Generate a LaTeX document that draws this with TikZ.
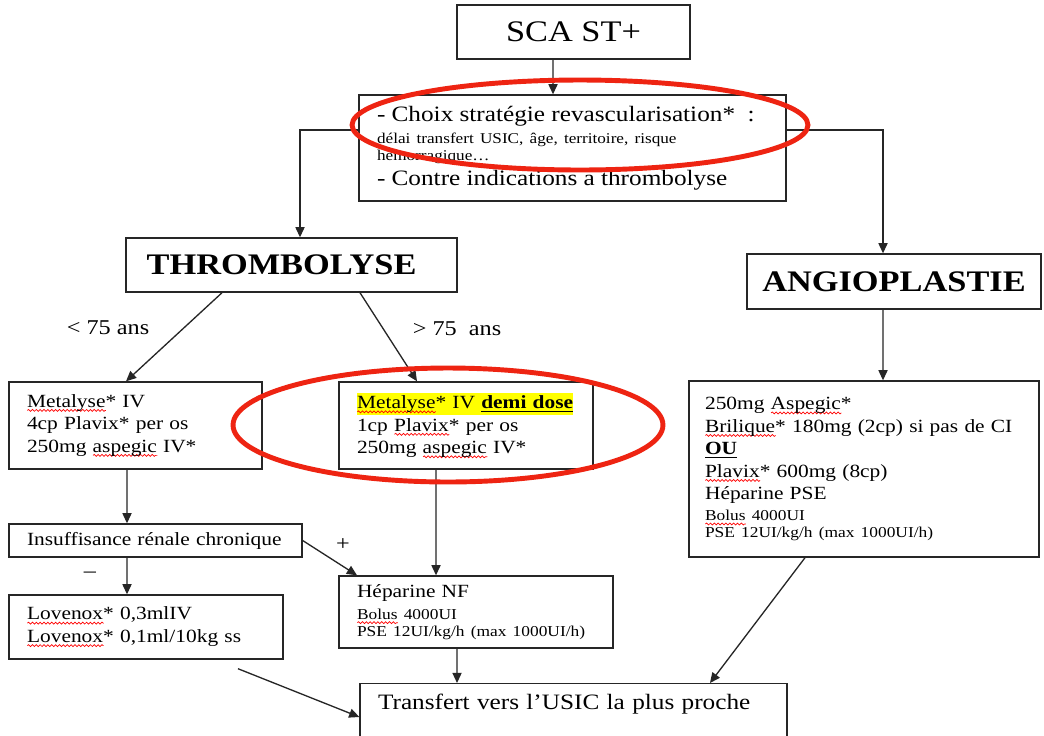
\documentclass[tikz,border=0pt]{standalone}
\usepackage{fontspec}
\setmainfont{Liberation Serif}[FakeStretch=1.15]
\usetikzlibrary{arrows.meta,decorations.pathmorphing}

\definecolor{ringred}{RGB}{238,36,18}
\definecolor{hlyellow}{RGB}{255,255,0}
\newcommand{\fbig}{\fontsize{17}{20}\selectfont}
\newcommand{\fhead}{\fontsize{12.5}{14.2}\selectfont}
\newcommand{\fbody}{\fontsize{10.6}{12.8}\selectfont}
\newcommand{\fsmall}{\fontsize{8.6}{9.4}\selectfont}
\newlength{\squigwd}
\newcommand{\squig}[1]{\leavevmode\settowidth{\squigwd}{#1}%
  \rlap{\tikz[baseline=0pt]\draw[red, line width=0.4pt, decorate,
    decoration={snake, amplitude=0.55pt, segment length=2.2pt}] (0pt,-1.8pt) -- (\squigwd,-1.8pt);}#1}
\setlength{\parindent}{0pt}
\setlength{\fboxsep}{0pt}

\begin{document}
\begin{tikzpicture}[x=0.02cm, y=-0.02cm, >={Triangle[length=5.8pt,width=5.2pt]},
  box/.style={draw=black!85, line width=0.8pt, fill=white, inner ysep=0pt, font=\fbody},
  txtbox/.style={box, inner xsep=0.36cm, align=left},
  arr/.style={->, line width=0.75pt, black!85},
  lbl/.style={font=\fontsize{12}{13}\selectfont, inner sep=1pt},
  ring/.style={draw=ringred, line width=2.8pt}]
  \useasboundingbox (0,0) rectangle (1044,735);
  \clip (0,0) rectangle (1044,735);
  \fill[white] (0,0) rectangle (1044,735);

  % top of the chart
  \node[box, minimum width=4.66cm, minimum height=1.08cm, font=\fbig] (sca) at (573.5,32) {SCA ST+};
  \node[txtbox, text width=7.82cm, minimum height=2.12cm] (choix) at (572.5,148)
    {{\fhead - Choix stratégie revascularisation*~~:\par}
     \vspace{2.9pt}
     {\fontsize{8.5}{9.6}\selectfont délai transfert USIC, âge, territoire, risque\\ hémorragique…\par}
     {\fhead - Contre indications a thrombolyse\par}};

  \node[box, minimum width=6.62cm, minimum height=1.08cm, font=\fbig\bfseries] (thromb) at (291.5,265) {THROMBOLYSE\kern0.4cm};
  \node[box, minimum width=5.88cm, minimum height=1.1cm, font=\fbig\bfseries] (angio) at (894,281.5) {ANGIOPLASTIE};

  % treatments
  \node[txtbox, text width=4.34cm, minimum height=1.74cm] (metaA) at (135.5,425.5)
    {\squig{Metalyse}* IV\\ 4cp Plavix* per os\\ 250mg \squig{aspegic} IV*};
  \node[txtbox, text width=4.36cm, minimum height=1.74cm] (metaB) at (466,425.5)
    {\colorbox{hlyellow}{\strut\squig{Metalyse}* IV \textbf{\underline{demi dose}}}\\ 1cp \squig{Plavix}* per os\\ 250mg \squig{aspegic} IV*};
  \node[txtbox, inner xsep=0.32cm, text width=6.36cm, minimum height=3.52cm] (angTx) at (864,469)
    {250mg \squig{Aspegic}*\\ \squig{Brilique}* 180mg (2cp) si pas de CI\\ \textbf{\underline{OU}}\\
     \squig{Plavix}* 600mg (8cp)\\ Héparine PSE\par
     \vspace{2.6pt}
     {\fsmall \squig{Bolus} 4000UI\\ PSE 12UI/kg/h (max 1000UI/h)\par}};

  \node[txtbox, text width=5.14cm, minimum height=0.66cm] (irc) at (155.5,540.5) {Insuffisance rénale chronique};
  \node[txtbox, text width=4.76cm, minimum height=1.28cm] (lov) at (146,627)
    {\squig{Lovenox}* 0,3mlIV\\ \squig{Lovenox}* 0,1ml/10kg ss};
  \node[txtbox, text width=4.76cm, minimum height=1.44cm] (hep) at (476,612)
    {Héparine NF\par
     \vspace{3pt}
     {\fsmall \squig{Bolus} 4000UI\\ PSE 12UI/kg/h (max 1000UI/h)\par}};
  \node[txtbox, anchor=north, text width=7.82cm, inner ysep=0.2cm, text height=9pt, text depth=1cm, font=\fhead] (transf) at (573.5,683)
    {Transfert vers l’USIC la plus proche};

  % labels
  \node[lbl] (lt) at (108,328) {< 75 ans};
  \node[lbl] (gt) at (457,329) {> 75~ ans};
  \node[lbl] (plus) at (343,545) {+};
  \node[lbl] (minus) at (90,575) {–};

  % connectors
  \draw[arr] ([xshift=-0.41cm]sca.south) -- ([xshift=-0.39cm]choix.north);
  \draw[arr] ([yshift=0.36cm]choix.west) -| ([xshift=0.17cm]thromb.north);
  \draw[arr] ([yshift=0.36cm]choix.east) -| ([xshift=-0.22cm]angio.north);
  \draw[arr] ([xshift=-1.39cm]thromb.south) -- ([xshift=-0.19cm]metaA.north);
  \draw[arr] ([xshift=1.37cm]thromb.south) -- ([xshift=-0.98cm]metaB.north);
  \draw[arr] ([xshift=-0.22cm]angio.south) -- ([xshift=0.38cm]angTx.north);
  \draw[arr] ([xshift=-0.17cm]metaA.south) -- ([xshift=-0.57cm]irc.north);
  \draw[arr] ([xshift=-0.57cm]irc.south) -- ([xshift=-0.38cm]lov.north);
  \draw[arr] (irc.east) -- ([xshift=-2.38cm]hep.north);
  \draw[arr] ([xshift=-0.6cm]metaB.south) -- ([xshift=-0.8cm]hep.north);
  \draw[arr] ([xshift=-0.38cm]hep.south) -- ([xshift=-2.33cm]transf.north);
  \draw[arr] ([xshift=1.84cm,yshift=-0.18cm]lov.south) -- ([yshift=-0.68cm]transf.north west);
  \draw[arr] ([xshift=-1.18cm]angTx.south) -- ([xshift=2.73cm]transf.north);

  % red rings
  \draw[ring] (580,125) ellipse [x radius=4.56cm, y radius=0.9cm];
  \draw[ring] (448,425) ellipse [x radius=4.3cm, y radius=1.14cm];
\end{tikzpicture}
\end{document}
